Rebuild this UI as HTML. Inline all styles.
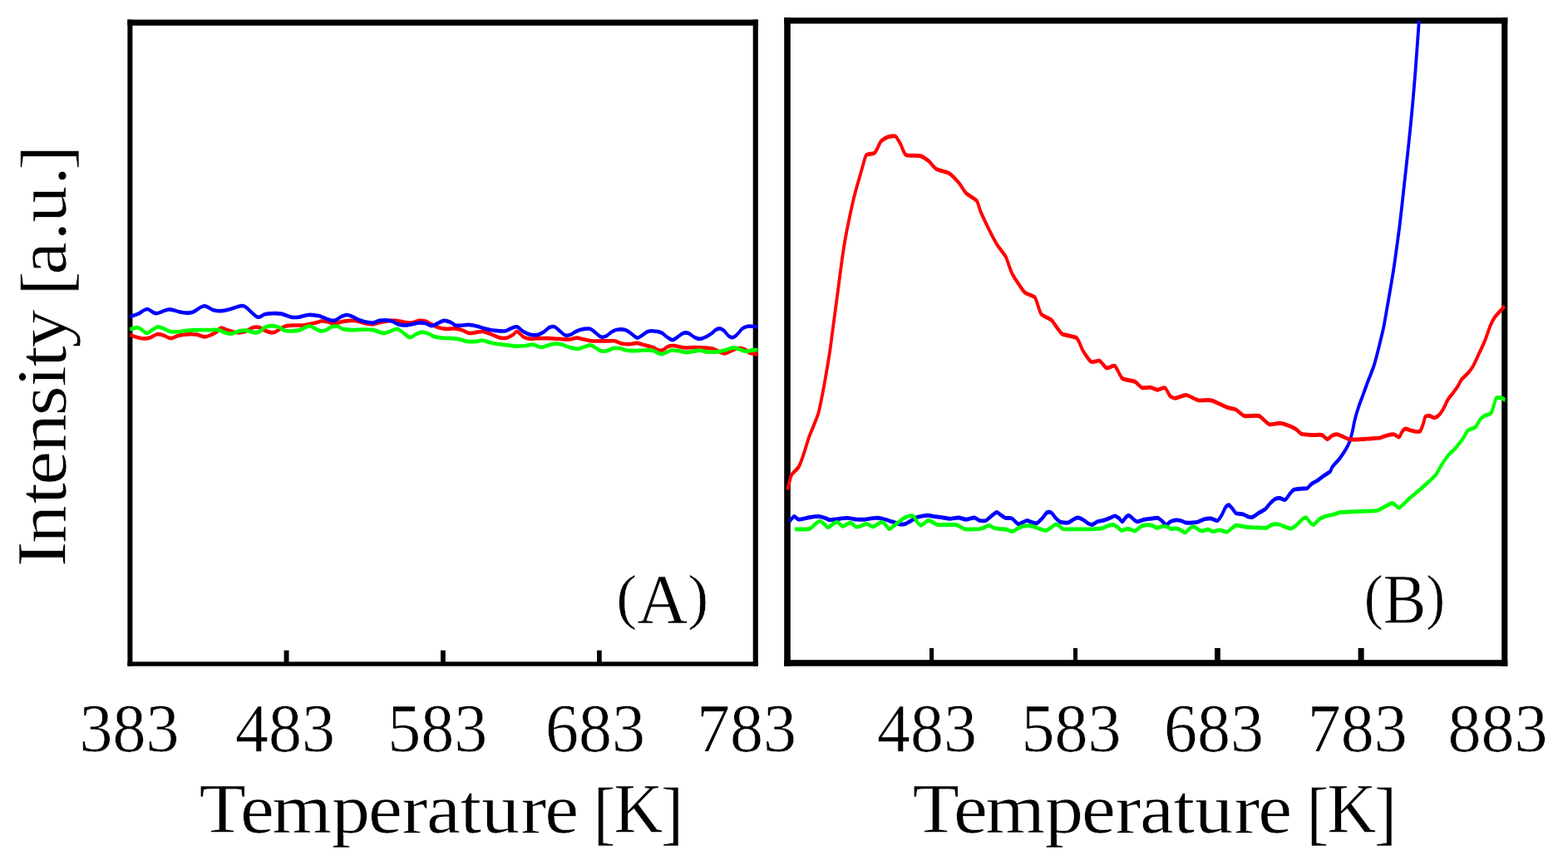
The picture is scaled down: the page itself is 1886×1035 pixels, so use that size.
<!DOCTYPE html>
<html lang="en">
<head>
<meta charset="utf-8">
<title>Intensity vs Temperature</title>
<style>
html,body{margin:0;padding:0;background:#fff;width:1886px;height:1035px}
svg{display:block}
text{font-family:"Liberation Serif",serif;fill:#000;stroke:#fff;stroke-width:0.6px;paint-order:fill stroke}
.c{fill:none;stroke-linejoin:round;stroke-linecap:butt}
</style>
</head>
<body>
<svg width="1886" height="1035" viewBox="0 0 1886 1035">
<rect x="0" y="0" width="1886" height="1035" fill="#fff"/>
<!-- left frame -->
<g fill="#000">
<rect x="153.4" y="23.6" width="758.4" height="7.2"/>
<rect x="153.4" y="796.4" width="758.4" height="5.3"/>
<rect x="153.4" y="23.6" width="6" height="778.1"/>
<rect x="905.7" y="23.6" width="6.1" height="778.1"/>
<rect x="341.6" y="782.7" width="5.9" height="15"/>
<rect x="530" y="782.7" width="5.8" height="15"/>
<rect x="718" y="782.7" width="5.7" height="15"/>
</g>
<!-- right frame -->
<g fill="#000">
<rect x="943.2" y="21.2" width="870.1" height="7.3"/>
<rect x="943.2" y="794.2" width="870.1" height="7.5"/>
<rect x="943.2" y="21.2" width="7.6" height="780.5"/>
<rect x="1806.2" y="21.2" width="7.1" height="780.5"/>
<rect x="1118" y="779.9" width="5.1" height="16"/>
<rect x="1291" y="779.9" width="5" height="16"/>
<rect x="1461" y="779.9" width="6.8" height="16"/>
<rect x="1633.6" y="779.9" width="7" height="16"/>
</g>
<defs><filter id="soft" x="-2%" y="-10%" width="104%" height="120%"><feGaussianBlur stdDeviation="0.5"/></filter><filter id="soft2" x="-2%" y="-2%" width="104%" height="104%"><feGaussianBlur stdDeviation="0.32"/></filter></defs>
<!-- curves left -->
<g filter="url(#soft)"><g transform="scale(1,1.3)">
<path class="c" stroke="#f00" stroke-width="3.55" d="M156.3,309.9C157.7,310.3 162.1,311.7 165.1,312.3C168.0,312.9 171.1,313.5 173.9,313.5C176.6,313.5 178.9,313.0 181.4,312.3C183.9,311.6 186.4,309.7 188.9,309.4C191.4,309.1 193.7,309.7 196.5,310.3C199.2,311.0 202.3,313.2 205.3,313.2C208.2,313.3 211.3,311.4 214.1,310.8C216.8,310.2 218.7,309.9 221.6,309.7C224.5,309.4 228.9,309.3 231.6,309.4C234.4,309.4 235.4,309.5 237.9,309.9C240.4,310.3 244.0,311.8 246.7,311.8C249.4,311.8 251.9,310.6 254.2,309.9C256.5,309.1 258.6,308.5 260.5,307.4C262.4,306.4 263.0,303.8 265.5,303.6C268.1,303.3 272.2,305.3 275.6,306.0C278.9,306.7 282.5,307.8 285.6,307.9C288.8,308.1 291.3,307.8 294.4,307.0C297.6,306.2 301.6,303.7 304.5,303.1C307.4,302.5 309.7,302.6 312.0,303.1C314.3,303.6 315.6,305.2 318.3,306.0C321.0,306.8 325.4,308.1 328.3,307.9C331.3,307.8 333.4,306.0 335.9,305.0C338.4,304.0 340.5,302.6 343.4,301.9C346.3,301.3 350.1,301.3 353.5,301.2C356.8,301.0 360.6,301.3 363.5,301.2C366.4,301.0 367.9,300.7 371.0,300.2C374.2,299.7 379.9,298.8 382.4,298.3C384.8,297.8 384.1,297.4 386.0,297.3C387.9,297.2 390.8,297.4 393.5,297.8C396.3,298.2 399.4,299.7 402.3,299.7C405.3,299.7 408.0,298.3 411.1,297.8C414.3,297.3 418.0,296.9 421.2,296.8C424.3,296.7 427.0,296.9 430.0,297.3C432.9,297.7 436.0,298.8 438.8,299.2C441.5,299.7 443.8,300.2 446.3,300.2C448.8,300.2 451.3,299.6 453.8,299.2C456.3,298.8 458.8,298.2 461.4,297.8C463.9,297.4 466.4,297.0 468.9,296.8C471.4,296.7 473.5,296.6 476.4,296.8C479.4,297.1 483.3,297.9 486.5,298.3C489.6,298.6 492.3,299.0 495.3,298.8C498.2,298.5 501.3,297.1 504.1,296.8C506.8,296.6 509.1,296.7 511.6,297.3C514.1,297.9 516.6,299.2 519.1,300.2C521.6,301.2 523.7,302.4 526.7,303.1C529.6,303.8 533.4,304.4 536.7,304.5C540.1,304.7 543.6,303.9 546.8,304.1C549.9,304.2 552.6,304.8 555.6,305.5C558.5,306.2 561.2,308.1 564.3,308.4C567.5,308.7 571.5,307.7 574.4,307.4C577.3,307.2 579.0,306.6 581.9,307.0C584.9,307.4 588.6,308.9 592.0,309.9C595.3,310.8 599.1,312.3 602.0,312.8C605.0,313.2 607.0,313.2 609.6,312.8C612.1,312.3 615.0,310.8 617.1,309.9C619.2,308.9 619.9,306.6 622.0,307.0C624.1,307.3 627.0,310.7 629.5,311.8C632.0,312.9 634.1,313.5 637.1,313.7C640.0,314.0 643.4,313.3 647.1,313.2C650.9,313.2 655.5,313.2 659.7,313.2C663.9,313.3 668.1,313.6 672.2,313.7C676.4,313.9 681.2,314.4 684.8,314.2C688.4,314.0 690.7,312.8 693.6,312.8C696.5,312.8 699.2,313.7 702.4,314.2C705.5,314.7 709.1,315.4 712.4,315.7C715.8,315.9 719.1,315.7 722.5,315.7C725.8,315.7 729.6,315.7 732.5,315.7C735.5,315.7 737.5,315.3 740.1,315.7C742.6,316.1 744.7,317.6 747.6,318.1C750.5,318.6 754.5,318.6 757.6,318.6C760.8,318.5 763.5,317.4 766.4,317.6C769.4,317.8 772.1,318.9 775.2,319.5C778.4,320.2 782.3,320.7 785.3,321.5C788.2,322.3 790.7,324.0 792.8,324.4C794.9,324.8 796.2,324.4 797.8,323.9C799.5,323.3 800.8,321.6 802.9,321.0C805.0,320.3 807.0,319.8 810.4,320.0C813.7,320.2 818.8,321.7 823.0,321.9C827.1,322.2 831.7,321.5 835.5,321.5C839.3,321.5 842.2,321.7 845.6,321.9C848.9,322.1 853.1,322.3 855.6,322.6C858.1,322.9 858.9,323.3 860.6,323.9C862.2,324.4 863.7,325.2 865.6,325.8C867.5,326.4 869.4,327.5 871.9,327.3C874.4,327.0 877.9,325.2 880.7,324.4C883.4,323.6 885.7,322.6 888.2,322.4C890.7,322.3 893.4,322.7 895.7,323.4C898.0,324.1 899.4,326.0 902.0,326.8C904.6,327.5 909.9,327.8 911.4,328.0"/>
<path class="c" stroke="#00f" stroke-width="3.55" d="M156.3,293.2C158.0,292.8 162.9,291.7 166.3,290.5C169.8,289.4 173.4,286.3 177.0,286.2C180.6,286.1 183.4,290.0 187.7,290.1C192.0,290.1 198.1,286.7 202.8,286.5C207.4,286.2 212.0,288.1 215.3,288.6C218.7,289.1 220.1,289.5 222.8,289.6C225.6,289.7 227.9,290.1 231.6,289.1C235.4,288.0 241.3,283.6 245.5,283.3C249.6,283.0 253.2,286.4 256.8,287.2C260.3,287.9 263.5,288.0 266.8,287.8C270.2,287.7 273.1,286.9 276.9,286.2C280.6,285.4 286.3,283.6 289.4,283.3C292.6,283.0 292.3,282.6 295.7,284.3C299.0,286.0 305.7,292.3 309.5,293.4C313.3,294.6 315.2,291.6 318.3,291.0C321.4,290.5 325.0,290.1 328.3,290.1C331.7,290.0 334.8,290.0 338.4,290.5C342.0,291.1 346.3,292.9 349.7,293.4C353.0,294.0 354.9,294.0 358.5,293.6C362.0,293.3 367.1,291.7 371.0,291.5C375.0,291.3 379.9,292.0 382.4,292.3C384.8,292.5 384.1,292.4 386.0,293.0C387.9,293.5 390.8,294.7 393.5,295.4C396.3,296.0 399.6,297.1 402.3,296.8C405.0,296.5 407.5,294.3 409.9,293.4C412.3,292.6 414.5,291.6 416.8,291.5C419.1,291.4 421.1,292.2 423.7,293.0C426.3,293.8 429.5,295.5 432.5,296.3C435.4,297.2 438.5,297.9 441.3,298.3C444.0,298.7 446.3,299.0 448.8,298.8C451.3,298.5 453.8,297.2 456.3,296.8C458.8,296.4 461.4,296.3 463.9,296.3C466.4,296.4 468.9,296.7 471.4,297.3C473.9,297.9 476.4,299.6 478.9,300.2C481.5,300.8 483.8,301.2 486.5,301.2C489.2,301.2 492.3,300.6 495.3,300.2C498.2,299.8 501.3,298.9 504.1,298.8C506.8,298.6 509.1,298.8 511.6,299.2C514.1,299.7 516.6,301.7 519.1,301.7C521.6,301.7 524.2,300.0 526.7,299.2C529.2,298.4 531.7,297.0 534.2,296.8C536.7,296.7 539.4,297.5 541.7,298.3C544.0,299.0 545.7,300.7 548.0,301.2C550.3,301.7 552.8,301.2 555.6,301.2C558.3,301.1 561.2,300.5 564.3,300.7C567.5,300.8 571.0,301.5 574.4,302.1C577.7,302.8 581.1,303.9 584.4,304.5C587.8,305.2 590.7,305.7 594.5,306.0C598.3,306.3 603.7,306.8 607.0,306.5C610.4,306.2 612.1,304.7 614.6,304.1C617.1,303.4 619.5,302.1 622.0,302.6C624.5,303.1 626.8,305.8 629.5,307.0C632.3,308.2 635.4,309.4 638.3,309.9C641.3,310.3 644.4,310.3 647.1,309.9C649.8,309.4 652.4,308.1 654.7,307.0C657.0,305.8 658.8,303.8 660.9,303.1C663.0,302.4 665.1,302.1 667.2,302.6C669.3,303.2 671.4,305.2 673.5,306.5C675.6,307.8 677.7,309.8 679.8,310.3C681.9,310.9 683.8,310.5 686.1,309.9C688.4,309.2 690.9,307.4 693.6,306.5C696.3,305.6 699.7,304.9 702.4,304.5C705.1,304.2 707.6,304.0 709.9,304.5C712.2,305.1 714.1,306.7 716.2,307.9C718.3,309.1 720.4,311.2 722.5,311.8C724.6,312.4 726.5,312.1 728.8,311.3C731.1,310.5 733.8,308.0 736.3,307.0C738.8,305.9 741.1,305.3 743.8,305.0C746.5,304.8 749.9,304.8 752.6,305.5C755.3,306.2 757.9,308.2 760.2,309.4C762.5,310.6 764.3,312.6 766.4,312.8C768.5,312.9 770.6,311.3 772.7,310.3C774.8,309.4 776.7,307.6 779.0,307.0C781.3,306.3 783.8,306.3 786.5,306.5C789.3,306.6 792.6,307.0 795.3,307.9C798.0,308.9 800.6,311.2 802.9,312.3C805.2,313.4 807.0,314.8 809.1,314.7C811.2,314.6 813.3,312.8 815.4,311.8C817.5,310.7 819.6,309.0 821.7,308.4C823.8,307.9 825.7,307.8 828.0,308.4C830.3,309.1 833.2,311.4 835.5,312.3C837.8,313.2 839.5,313.8 841.8,313.7C844.1,313.6 847.0,312.6 849.3,311.8C851.6,311.0 853.7,309.9 855.6,308.9C857.5,307.9 858.9,306.3 860.6,305.5C862.2,304.7 863.9,304.0 865.6,304.1C867.3,304.1 868.7,304.8 870.6,306.0C872.5,307.2 875.0,310.3 876.9,311.3C878.8,312.4 880.2,312.6 881.9,312.3C883.6,312.0 885.1,310.7 886.9,309.4C888.8,308.0 891.1,305.3 893.2,304.1C895.3,302.9 897.2,302.4 899.5,302.1C901.8,301.8 905.1,302.3 907.0,302.3C909.0,302.4 910.7,302.3 911.4,302.3"/>
<path class="c" stroke="#0f0" stroke-width="3.65" d="M156.3,305.0C157.7,304.7 162.8,303.1 165.1,303.1C167.4,303.1 168.1,304.1 170.1,305.0C172.1,305.9 174.7,308.4 177.0,308.4C179.3,308.4 181.7,306.0 183.9,305.0C186.1,304.1 187.9,302.7 190.2,302.6C192.5,302.5 195.2,303.8 197.7,304.5C200.2,305.3 202.3,306.6 205.3,307.0C208.2,307.4 212.0,307.1 215.3,307.0C218.7,306.8 221.6,306.2 225.4,306.0C229.1,305.8 233.7,305.6 237.9,305.5C242.1,305.4 246.3,305.5 250.5,305.5C254.7,305.5 259.7,305.1 263.0,305.5C266.4,305.9 268.1,307.4 270.6,307.9C273.1,308.5 275.2,309.1 278.1,308.9C281.0,308.7 285.0,307.0 288.2,306.5C291.3,306.0 293.8,305.8 296.9,306.0C300.1,306.2 304.3,307.9 307.0,307.9C309.7,308.0 311.4,307.3 313.3,306.5C315.2,305.7 316.0,303.9 318.3,303.1C320.6,302.3 324.2,301.7 327.1,301.7C330.0,301.7 333.4,302.4 335.9,303.1C338.4,303.8 339.7,305.4 342.2,306.0C344.7,306.6 347.8,306.6 351.0,306.5C354.1,306.4 358.3,306.1 361.0,305.5C363.7,305.0 365.2,303.7 367.3,303.1C369.4,302.5 371.5,301.9 373.6,302.1C375.7,302.4 377.8,303.8 379.8,304.5C381.9,305.3 383.9,306.3 386.0,306.5C388.1,306.6 390.2,306.2 392.3,305.5C394.4,304.9 396.3,303.2 398.6,302.6C400.9,302.1 403.8,301.8 406.1,302.1C408.4,302.5 409.4,304.0 412.4,304.5C415.3,305.1 419.7,305.4 423.7,305.5C427.7,305.6 432.1,305.0 436.2,305.0C440.4,305.0 445.4,305.1 448.8,305.5C452.1,305.9 454.0,307.0 456.3,307.4C458.6,307.9 460.3,308.6 462.6,308.4C464.9,308.3 467.6,307.1 470.1,306.5C472.7,305.8 475.4,304.4 477.7,304.5C480.0,304.7 481.5,306.2 484.0,307.4C486.5,308.7 490.0,312.0 492.8,312.3C495.5,312.6 497.8,310.2 500.3,309.4C502.8,308.6 505.3,307.5 507.8,307.4C510.3,307.4 512.9,308.2 515.4,308.9C517.9,309.6 520.0,311.2 522.9,311.8C525.8,312.4 529.6,312.5 532.9,312.8C536.3,313.0 539.6,313.0 543.0,313.2C546.3,313.5 549.9,313.7 553.0,314.2C556.2,314.7 558.7,315.8 561.8,316.1C565.0,316.5 568.7,316.3 571.9,316.1C575.0,316.0 577.7,315.0 580.7,315.2C583.6,315.3 586.3,316.5 589.5,317.1C592.6,317.7 596.2,318.2 599.5,318.6C602.9,319.0 606.4,319.2 609.6,319.5C612.7,319.8 616.3,320.1 618.4,320.3C620.4,320.5 619.7,320.5 622.0,320.5C624.3,320.4 628.9,320.2 632.0,320.0C635.2,319.8 637.7,318.8 640.8,319.0C644.0,319.3 647.7,321.4 650.9,321.5C654.0,321.5 656.7,320.1 659.7,319.5C662.6,319.0 665.7,318.2 668.5,318.1C671.2,318.0 673.3,318.5 676.0,319.0C678.7,319.6 681.7,320.8 684.8,321.5C687.9,322.1 691.7,323.0 694.8,322.9C698.0,322.8 701.1,321.5 703.6,321.0C706.1,320.4 707.8,319.4 709.9,319.5C712.0,319.7 714.1,321.1 716.2,321.9C718.3,322.8 720.2,324.4 722.5,324.8C724.8,325.3 727.5,325.2 730.0,324.8C732.5,324.4 735.0,322.8 737.5,322.4C740.1,322.0 742.4,322.1 745.1,322.4C747.8,322.7 750.7,324.0 753.9,324.4C757.0,324.8 760.8,324.8 763.9,324.8C767.1,324.8 769.4,324.4 772.7,324.4C776.1,324.3 780.9,324.0 784.0,324.4C787.2,324.8 789.5,326.2 791.6,326.8C793.6,327.3 794.7,327.9 796.6,327.7C798.5,327.6 801.0,326.4 802.9,325.8C804.7,325.2 805.6,324.5 807.9,324.4C810.2,324.2 813.7,324.5 816.7,324.8C819.6,325.2 822.5,326.2 825.5,326.3C828.4,326.4 831.5,325.6 834.3,325.3C837.0,325.0 839.1,324.3 841.8,324.4C844.5,324.4 847.5,325.6 850.6,325.8C853.7,326.0 858.1,325.9 860.6,325.8C863.1,325.7 863.5,325.6 865.6,325.3C867.7,325.0 870.4,324.4 873.1,323.9C875.9,323.3 879.2,322.0 881.9,321.9C884.6,321.9 886.9,322.8 889.5,323.4C892.0,324.0 894.7,325.2 897.0,325.3C899.3,325.5 900.9,324.6 903.3,324.4C905.7,324.1 910.1,324.0 911.4,323.9"/>
</g></g>
<!-- curves right -->
<g filter="url(#soft2)"><g transform="scale(1,1.3)">
<path class="c" stroke="#00f" stroke-width="3.8" d="M949.5,482.9C950.1,482.4 954.1,478.2 955.2,478.0C956.3,477.9 959.0,480.8 960.8,480.9C962.7,481.0 971.0,479.3 973.4,479.0C975.8,478.7 982.8,478.0 984.7,478.0C986.6,478.1 990.9,479.2 992.2,479.5C993.6,479.8 997.0,481.3 998.5,481.4C1000.0,481.5 1005.3,480.7 1007.3,480.5C1009.3,480.3 1016.4,479.5 1018.6,479.5C1020.9,479.5 1027.8,480.6 1029.9,480.8C1032.1,480.9 1037.7,481.1 1040.0,480.9C1042.2,480.8 1050.3,479.5 1052.5,479.5C1054.8,479.4 1060.6,480.1 1062.6,480.5C1064.6,480.8 1070.9,482.4 1072.6,482.9C1074.4,483.3 1078.6,484.6 1080.2,484.8C1081.7,485.1 1086.2,485.5 1087.7,485.3C1089.2,485.1 1093.7,483.0 1095.2,482.4C1096.7,481.8 1101.3,479.5 1102.8,479.0C1104.3,478.5 1108.9,477.8 1110.3,477.6C1111.7,477.4 1115.3,477.0 1116.6,477.1C1117.8,477.1 1121.2,477.9 1122.9,478.0C1124.5,478.2 1130.9,478.8 1132.9,479.0C1134.9,479.2 1140.9,480.2 1143.0,480.2C1145.0,480.2 1151.1,479.1 1153.0,479.2C1154.9,479.3 1159.9,480.9 1161.8,480.9C1163.7,480.9 1170.2,479.1 1171.8,479.2C1173.5,479.3 1176.6,481.5 1178.0,481.8C1179.4,482.0 1184.2,482.3 1185.5,482.0C1186.9,481.6 1190.5,478.9 1191.8,478.1C1193.1,477.3 1197.5,474.3 1198.7,474.2C1200.0,474.1 1203.3,476.6 1204.4,477.1C1205.4,477.7 1208.1,479.3 1209.4,479.5C1210.7,479.8 1215.7,479.4 1216.9,479.8C1218.2,480.2 1221.1,482.9 1222.0,483.4C1222.8,484.0 1224.5,485.5 1225.7,485.3C1227.0,485.2 1233.0,482.1 1234.5,482.0C1236.0,481.8 1239.5,483.2 1240.8,483.4C1242.1,483.6 1245.8,484.7 1247.1,484.4C1248.3,484.0 1252.1,481.0 1253.4,480.0C1254.6,479.0 1258.5,474.8 1259.6,474.2C1260.8,473.7 1263.7,474.2 1264.7,474.7C1265.7,475.2 1268.6,478.7 1269.7,479.5C1270.8,480.4 1274.5,483.0 1276.0,483.4C1277.5,483.8 1283.2,484.1 1284.8,483.9C1286.3,483.6 1289.9,481.5 1291.0,481.0C1292.2,480.5 1294.9,479.3 1296.1,479.3C1297.2,479.3 1301.1,480.5 1302.3,481.0C1303.6,481.5 1307.5,483.9 1308.6,484.4C1309.8,484.9 1312.5,486.0 1313.6,485.8C1314.8,485.7 1318.4,483.4 1319.9,482.9C1321.4,482.5 1327.1,481.9 1328.7,481.5C1330.3,481.1 1335.0,479.4 1336.3,479.1C1337.5,478.7 1340.3,477.5 1341.3,477.6C1342.3,477.7 1345.4,479.5 1346.3,480.0C1347.2,480.6 1349.2,483.1 1350.1,482.9C1350.9,482.7 1354.2,478.6 1355.1,478.1C1356.0,477.6 1358.0,477.3 1358.9,477.6C1359.7,477.9 1363.0,480.5 1363.9,481.0C1364.8,481.5 1366.4,482.9 1367.7,482.9C1368.9,482.9 1374.7,481.3 1376.4,481.0C1378.2,480.7 1383.6,480.2 1385.2,480.0C1386.9,479.9 1391.5,479.3 1392.8,479.5C1394.0,479.8 1396.8,481.8 1397.8,482.4C1398.8,483.1 1401.8,485.8 1402.8,485.8C1403.8,485.9 1406.7,483.4 1407.8,482.9C1409.0,482.5 1412.8,481.6 1414.0,481.5C1415.2,481.4 1419.0,481.7 1420.3,482.0C1421.5,482.2 1425.2,483.7 1426.6,483.9C1427.9,484.1 1432.6,484.0 1434.1,483.9C1435.6,483.8 1440.1,483.3 1441.6,482.9C1443.1,482.6 1447.7,480.8 1449.2,480.5C1450.7,480.2 1455.2,479.9 1456.7,480.0C1458.2,480.2 1463.0,482.2 1464.2,482.0C1465.5,481.7 1468.3,478.4 1469.3,477.1C1470.3,475.9 1473.4,470.4 1474.3,469.4C1475.2,468.4 1477.3,467.4 1478.1,467.5C1478.8,467.6 1480.9,469.6 1481.8,470.4C1482.7,471.1 1485.5,474.6 1486.8,475.2C1488.2,475.8 1494.1,475.8 1495.6,476.2C1497.1,476.5 1500.8,478.3 1501.9,478.6C1503.0,478.8 1505.7,479.0 1506.9,478.6C1508.2,478.2 1513.0,475.4 1514.5,474.7C1516.0,474.0 1520.6,472.2 1522.0,471.3C1523.4,470.4 1527.0,466.5 1528.3,465.5C1529.5,464.6 1533.4,462.1 1534.6,461.7C1535.7,461.2 1538.5,461.1 1539.6,461.2C1540.7,461.3 1544.7,463.0 1545.9,462.6C1547.0,462.3 1549.9,458.7 1550.9,457.8C1551.9,456.9 1554.5,454.0 1555.9,453.5C1557.3,452.9 1563.1,452.6 1564.7,452.5C1566.3,452.3 1571.0,452.4 1572.3,452.0C1573.5,451.6 1576.0,448.9 1577.3,448.1C1578.5,447.4 1583.3,445.5 1584.8,444.8C1586.3,444.0 1590.8,441.2 1592.3,440.4C1593.9,439.6 1598.9,437.4 1599.9,436.5C1600.9,435.7 1601.4,433.4 1602.6,432.2C1603.7,431.0 1609.7,426.1 1611.4,424.4C1613.0,422.8 1617.7,417.3 1618.9,415.8C1620.1,414.2 1622.5,410.5 1623.3,409.0C1624.0,407.4 1625.8,402.3 1626.4,400.3C1627.1,398.3 1628.8,391.0 1629.6,388.7C1630.3,386.4 1633.0,379.3 1634.0,377.1C1634.9,374.9 1638.0,368.6 1639.0,366.5C1640.0,364.4 1643.1,357.8 1644.0,355.9C1644.9,353.9 1647.5,348.9 1648.4,347.2C1649.3,345.4 1651.6,340.9 1652.6,338.5C1653.6,336.1 1656.9,326.5 1658.0,323.1C1659.1,319.6 1662.9,307.9 1664.0,303.8C1665.1,299.8 1668.0,286.5 1669.0,282.3C1670.0,278.2 1672.6,266.3 1673.5,262.3C1674.4,258.3 1676.6,247.8 1677.6,242.3C1678.6,236.8 1682.6,214.6 1683.7,207.7C1684.8,200.8 1687.7,180.4 1688.7,173.1C1689.8,165.8 1693.2,141.9 1694.2,134.6C1695.2,127.3 1697.9,106.9 1698.7,100.0C1699.5,93.1 1701.7,73.4 1702.5,65.4C1703.3,57.3 1706.4,24.1 1706.8,19.5"/>
<path class="c" stroke="#f00" stroke-width="3.8" d="M947.0,453.3C947.5,452.0 950.6,442.0 952.0,439.8C953.4,437.7 959.3,434.2 960.8,432.1C962.3,430.1 965.8,422.4 967.0,419.6C968.3,416.8 971.5,408.0 973.3,404.2C975.0,400.5 982.7,387.2 984.5,382.1C986.4,377.0 990.7,359.0 992.1,353.2C993.4,347.5 997.2,330.1 998.3,324.4C999.4,318.6 1002.3,301.3 1003.3,295.5C1004.3,289.7 1007.3,272.4 1008.3,266.6C1009.3,260.8 1012.3,242.9 1013.3,237.7C1014.3,232.5 1016.9,220.1 1018.3,214.6C1019.7,209.1 1025.6,187.8 1027.1,182.9C1028.6,178.0 1032.2,168.6 1033.3,165.6C1034.5,162.5 1037.5,154.3 1038.3,152.1C1039.2,149.9 1040.7,144.5 1042.1,143.4C1043.5,142.4 1050.4,142.7 1052.1,141.5C1053.9,140.2 1058.1,132.3 1059.6,130.9C1061.1,129.5 1065.4,127.5 1067.1,127.1C1068.9,126.6 1075.5,125.4 1077.1,126.1C1078.8,126.8 1082.1,132.1 1083.4,133.8C1084.6,135.5 1087.3,142.4 1089.6,143.4C1092.0,144.5 1104.4,143.8 1107.2,144.4C1109.9,145.0 1115.3,148.0 1117.2,149.2C1119.1,150.4 1123.4,155.2 1125.9,156.3C1128.4,157.5 1139.4,159.4 1142.2,160.7C1145.0,162.0 1151.5,167.6 1153.5,169.4C1155.5,171.2 1160.1,177.4 1162.2,179.0C1164.3,180.7 1173.0,184.0 1174.7,185.8C1176.5,187.5 1178.2,193.7 1179.7,196.4C1181.2,199.0 1187.7,209.6 1189.7,212.7C1191.7,215.8 1197.8,224.6 1199.8,227.1C1201.8,229.6 1208.0,235.1 1209.8,237.7C1211.5,240.3 1215.0,249.9 1217.3,253.1C1219.5,256.4 1229.5,268.2 1232.3,270.5C1235.0,272.7 1242.8,273.2 1244.8,275.3C1246.8,277.3 1250.3,288.6 1252.3,290.7C1254.3,292.8 1262.3,294.6 1264.8,296.4C1267.3,298.3 1274.3,307.3 1277.3,309.0C1280.3,310.6 1292.4,311.3 1294.9,312.8C1297.4,314.3 1300.6,322.1 1302.4,324.4C1304.1,326.6 1310.4,334.0 1312.4,334.9C1314.4,335.9 1320.5,333.4 1322.4,334.0C1324.3,334.6 1329.3,340.2 1331.1,340.7C1333.0,341.2 1339.3,337.8 1341.1,338.8C1343.0,339.8 1347.5,348.9 1349.9,350.3C1352.3,351.8 1362.5,352.4 1364.9,353.2C1367.3,354.1 1371.8,358.5 1373.7,359.0C1375.6,359.5 1381.8,358.4 1383.7,358.6C1385.6,358.8 1390.7,360.9 1392.5,360.9C1394.2,361.0 1399.7,358.4 1401.2,359.0C1402.7,359.6 1406.2,365.7 1407.5,366.7C1408.7,367.7 1412.1,368.7 1414.0,368.6C1415.9,368.5 1423.8,365.6 1426.5,365.7C1429.3,365.9 1438.5,370.1 1441.5,370.6C1444.5,371.0 1453.0,369.9 1456.5,370.6C1460.0,371.2 1473.6,376.4 1476.6,377.3C1479.6,378.2 1484.6,378.4 1486.6,379.2C1488.6,380.0 1493.8,384.4 1496.6,385.0C1499.3,385.6 1511.1,384.2 1514.1,385.0C1517.1,385.8 1524.1,392.0 1526.6,392.7C1529.1,393.4 1536.9,391.6 1539.1,391.7C1541.4,391.8 1547.1,393.1 1549.1,393.7C1551.1,394.2 1557.5,396.7 1559.1,397.5C1560.8,398.3 1564.1,401.4 1566.0,401.9C1567.9,402.4 1575.6,402.6 1578.0,402.7C1580.4,402.8 1588.2,402.3 1590.0,402.7C1591.8,403.1 1595.0,406.5 1596.3,406.6C1597.5,406.6 1601.3,403.6 1602.6,403.2C1603.8,402.8 1607.6,402.1 1608.8,402.2C1610.1,402.3 1613.7,403.7 1615.1,404.2C1616.5,404.6 1621.0,406.3 1622.7,406.6C1624.3,406.8 1629.7,406.9 1631.4,406.9C1633.2,406.9 1638.4,406.7 1640.2,406.6C1642.1,406.5 1648.3,406.0 1650.3,405.9C1652.3,405.8 1658.6,405.6 1660.3,405.3C1662.1,405.0 1666.2,403.5 1667.9,403.2C1669.5,402.9 1675.2,402.1 1676.7,402.2C1678.2,402.4 1681.9,404.9 1682.9,404.6C1683.9,404.4 1686.0,400.1 1686.7,399.3C1687.5,398.6 1689.5,397.0 1690.5,396.9C1691.5,396.8 1695.5,398.1 1696.8,398.4C1698.0,398.6 1701.9,399.4 1703.0,399.5C1704.2,399.6 1707.2,400.0 1708.1,399.3C1708.9,398.6 1711.2,393.9 1711.8,392.6C1712.5,391.2 1713.6,386.6 1714.3,385.8C1715.1,385.0 1718.3,384.9 1719.4,385.0C1720.4,385.1 1723.9,386.8 1725.0,386.8C1726.1,386.7 1729.0,385.6 1730.0,384.8C1731.1,384.1 1734.5,380.6 1735.7,379.0C1736.9,377.5 1740.8,370.8 1742.0,369.4C1743.1,367.9 1745.9,365.7 1747.0,364.5C1748.1,363.4 1752.1,359.1 1753.3,357.8C1754.4,356.4 1757.0,352.3 1758.3,351.0C1759.6,349.8 1764.5,346.5 1765.8,345.2C1767.2,344.0 1770.9,340.2 1772.1,338.5C1773.4,336.8 1777.0,330.6 1778.4,328.3C1779.8,326.0 1784.5,318.4 1785.9,315.8C1787.3,313.1 1791.1,304.4 1792.2,302.2C1793.3,300.1 1796.1,295.8 1797.2,294.5C1798.4,293.1 1802.3,289.8 1803.5,288.7C1804.8,287.6 1809.2,283.9 1809.8,283.4"/>
<path class="c" stroke="#0f0" stroke-width="3.8" d="M955.8,489.9C957.6,489.9 971.0,490.1 973.4,489.7C975.8,489.3 978.4,486.5 979.7,485.8C980.9,485.1 984.8,482.5 986.0,482.4C987.1,482.3 990.0,484.3 991.0,484.9C992.0,485.4 994.9,488.2 996.0,488.2C997.1,488.2 1001.2,485.3 1002.3,484.9C1003.4,484.4 1006.2,483.2 1007.3,483.4C1008.4,483.6 1012.3,487.1 1013.6,487.3C1014.8,487.4 1018.9,485.2 1019.9,484.9C1020.9,484.5 1022.6,483.6 1023.6,483.9C1024.6,484.2 1028.5,487.5 1029.9,487.8C1031.3,488.0 1036.2,486.6 1037.5,486.3C1038.7,486.0 1041.2,484.7 1042.5,484.9C1043.7,485.0 1048.6,487.6 1050.0,487.6C1051.4,487.6 1055.2,485.3 1056.3,484.9C1057.4,484.4 1060.4,483.3 1061.3,483.4C1062.2,483.5 1064.3,485.2 1065.1,485.8C1065.9,486.4 1068.5,489.6 1069.5,489.7C1070.5,489.8 1073.9,487.5 1075.1,486.8C1076.3,486.1 1080.2,483.6 1081.4,482.9C1082.7,482.2 1086.4,480.1 1087.7,479.5C1088.9,479.0 1092.8,477.8 1094.0,477.6C1095.1,477.5 1098.1,477.6 1099.0,478.1C1099.9,478.6 1101.9,482.1 1102.8,482.9C1103.6,483.7 1106.7,486.3 1107.8,486.3C1108.9,486.3 1113.1,483.4 1114.1,482.9C1115.1,482.5 1117.0,481.9 1117.8,482.0C1118.7,482.1 1121.9,483.5 1122.9,483.9C1123.9,484.3 1126.4,485.6 1127.9,485.8C1129.4,486.0 1135.8,485.8 1137.9,485.8C1140.1,485.8 1147.5,485.6 1149.2,485.8C1151.0,486.0 1154.4,487.3 1155.5,487.8C1156.6,488.2 1159.3,489.7 1160.5,489.9C1161.8,490.1 1166.3,489.9 1168.1,489.9C1169.8,489.9 1176.4,489.8 1178.0,489.7C1179.6,489.5 1183.1,488.6 1184.3,488.2C1185.4,487.9 1188.2,486.3 1189.3,486.3C1190.4,486.4 1194.2,488.4 1195.6,488.7C1197.0,489.1 1201.6,489.5 1203.1,489.7C1204.6,489.8 1209.3,489.9 1210.7,490.2C1212.0,490.4 1215.7,492.1 1216.9,492.1C1218.2,492.1 1222.0,490.2 1223.2,489.7C1224.5,489.2 1228.0,487.6 1229.5,487.3C1231.0,487.0 1236.7,486.7 1238.3,486.8C1239.9,486.9 1244.6,487.9 1245.8,488.2C1247.1,488.5 1249.6,489.4 1250.8,489.7C1252.1,490.0 1257.0,491.3 1258.4,491.1C1259.8,491.0 1263.5,488.8 1264.7,488.2C1265.8,487.7 1268.7,485.4 1269.7,485.3C1270.7,485.2 1273.8,486.8 1274.7,487.3C1275.6,487.7 1276.8,489.4 1278.5,489.7C1280.1,489.9 1288.5,489.9 1291.0,489.9C1293.5,489.9 1301.1,489.9 1303.6,489.9C1306.1,489.9 1314.0,489.8 1316.2,489.7C1318.3,489.6 1323.4,489.4 1324.9,489.2C1326.5,489.0 1329.8,487.6 1331.2,487.3C1332.6,486.9 1337.5,485.8 1338.8,485.8C1340.0,485.9 1342.8,487.2 1343.8,487.8C1344.8,488.3 1347.7,490.9 1348.8,491.1C1349.9,491.3 1354.0,489.8 1355.1,489.7C1356.2,489.6 1359.1,490.0 1360.1,490.2C1361.1,490.4 1364.1,491.8 1365.1,491.6C1366.1,491.5 1369.2,489.2 1370.2,488.7C1371.2,488.2 1373.7,486.5 1375.2,486.3C1376.7,486.1 1383.6,486.1 1385.2,486.3C1386.9,486.5 1390.3,488.6 1391.5,488.7C1392.8,488.8 1396.5,487.4 1397.8,487.3C1399.0,487.2 1402.9,487.5 1404.1,487.8C1405.2,488.0 1408.1,489.5 1409.1,489.7C1410.1,489.8 1413.0,489.2 1414.0,489.2C1415.0,489.2 1417.9,489.8 1419.0,490.2C1420.2,490.6 1424.2,493.1 1425.3,493.1C1426.4,493.0 1429.3,490.3 1430.3,489.7C1431.3,489.1 1434.3,487.3 1435.4,487.3C1436.4,487.3 1439.4,489.2 1440.4,489.7C1441.4,490.1 1444.1,491.6 1445.4,491.6C1446.7,491.7 1451.6,490.1 1452.9,490.2C1454.3,490.2 1457.8,492.1 1459.2,492.1C1460.6,492.1 1465.1,490.6 1466.8,490.7C1468.4,490.7 1474.2,492.7 1475.5,492.6C1476.9,492.5 1479.4,490.3 1480.6,489.7C1481.7,489.1 1485.5,486.5 1486.8,486.3C1488.2,486.1 1492.6,487.1 1494.4,487.3C1496.1,487.5 1502.4,488.1 1504.4,488.2C1506.4,488.4 1512.6,488.5 1514.5,488.5C1516.4,488.6 1521.8,489.0 1523.3,488.7C1524.8,488.4 1528.2,486.2 1529.5,485.8C1530.9,485.5 1535.6,485.2 1537.1,485.3C1538.6,485.5 1543.1,486.9 1544.6,487.3C1546.1,487.7 1550.8,489.2 1552.2,489.2C1553.5,489.2 1557.1,487.6 1558.4,486.8C1559.8,486.0 1564.7,481.8 1566.0,481.0C1567.2,480.2 1570.0,478.8 1571.0,479.1C1572.0,479.3 1575.1,483.2 1576.0,483.9C1576.9,484.6 1578.7,486.2 1579.8,485.8C1580.9,485.5 1585.9,481.3 1587.3,480.5C1588.7,479.7 1592.1,478.5 1593.6,478.1C1595.1,477.7 1600.5,477.0 1602.4,476.6C1604.3,476.3 1609.9,474.5 1612.4,474.2C1615.0,473.9 1624.8,473.8 1627.5,473.7C1630.3,473.6 1637.2,473.4 1640.1,473.3C1643.0,473.1 1653.3,473.3 1656.7,472.6C1660.2,471.8 1671.6,466.1 1674.3,465.8C1676.9,465.6 1681.0,470.5 1683.0,470.1C1685.0,469.7 1691.7,463.8 1694.3,462.0C1696.9,460.2 1706.0,454.6 1709.3,452.4C1712.5,450.1 1724.4,442.0 1726.8,439.8C1729.2,437.7 1731.7,433.0 1733.2,431.2C1734.7,429.4 1740.2,423.2 1742.0,421.5C1743.7,419.9 1749.0,416.3 1750.8,414.8C1752.5,413.2 1758.0,407.7 1759.6,406.1C1761.1,404.4 1764.3,399.4 1765.8,398.4C1767.3,397.3 1773.1,396.5 1774.6,395.5C1776.1,394.4 1779.8,388.8 1780.9,387.7C1782.0,386.7 1784.7,385.4 1785.9,384.8C1787.2,384.3 1792.3,383.5 1793.5,382.4C1794.6,381.4 1796.6,375.6 1797.2,374.2C1797.9,372.8 1798.9,369.0 1799.7,368.4C1800.6,367.8 1805.0,368.2 1806.0,368.4C1807.1,368.6 1810.0,370.2 1810.4,370.3"/>
</g></g>
<!-- labels -->
<g font-size="84.5px">
<text transform="translate(79,680.0) rotate(-90) scale(1.09,1)" x="-2.0 23.9 67.2 88.3 124.5 164.9 196.5 218.5 240.0">Intensity</text>
<text transform="translate(79,350.0) rotate(-90) scale(1.05,1)" x="-5.6 18.6 57.8 78.1 121.5 138.6" dy="4.5 -4.5 0 0 0 4.5">[a.u.]</text>
<text transform="translate(244.0,1002.3) scale(1.09,1)" x="-4.2 41.3 76.3 142.3 182.6 219.7 246.9 283.9 307.3 351.0 377.2">Temperature</text>
<text transform="translate(720.0,1002.3) scale(0.96,1)" x="-6.7 19.4 78.2" dy="4.5 -4.5 4.5">[K]</text>
<text transform="translate(1102.0,1002.3) scale(1.09,1)" x="-4.2 41.3 76.3 142.3 182.6 219.7 246.9 283.9 307.3 351.0 377.2">Temperature</text>
<text transform="translate(1578.0,1002.3) scale(0.96,1)" x="-6.7 19.4 78.2" dy="4.5 -4.5 4.5">[K]</text>
<text font-size="82.3px" transform="translate(155.6,904.3) scale(0.972,1)" text-anchor="middle">383</text>
<text font-size="82.3px" transform="translate(343,904.3) scale(0.972,1)" text-anchor="middle">483</text>
<text font-size="82.3px" transform="translate(526.3,904.3) scale(0.972,1)" text-anchor="middle">583</text>
<text font-size="82.3px" transform="translate(716,904.3) scale(0.972,1)" text-anchor="middle">683</text>
<text font-size="82.3px" transform="translate(898,904.3) scale(0.972,1)" text-anchor="middle">783</text>
<text font-size="82.3px" transform="translate(1115,904.3) scale(0.972,1)" text-anchor="middle">483</text>
<text font-size="82.3px" transform="translate(1288.5,904.3) scale(0.972,1)" text-anchor="middle">583</text>
<text font-size="82.3px" transform="translate(1460,904.3) scale(0.972,1)" text-anchor="middle">683</text>
<text font-size="82.3px" transform="translate(1632.7,904.3) scale(0.972,1)" text-anchor="middle">783</text>
<text font-size="82.3px" transform="translate(1801.5,904.3) scale(0.972,1)" text-anchor="middle">883</text>
<text transform="translate(741.2,749.6) scale(1.0,1)"><tspan font-size="75px" dy="-7">(</tspan><tspan dy="7">A</tspan><tspan font-size="75px" dy="-7">)</tspan></text>
<text transform="translate(1640.8,749.6) scale(0.915,1)"><tspan font-size="75px" dy="-7">(</tspan><tspan dy="7">B</tspan><tspan font-size="75px" dy="-7">)</tspan></text>
</g>
</svg>
</body>
</html>
